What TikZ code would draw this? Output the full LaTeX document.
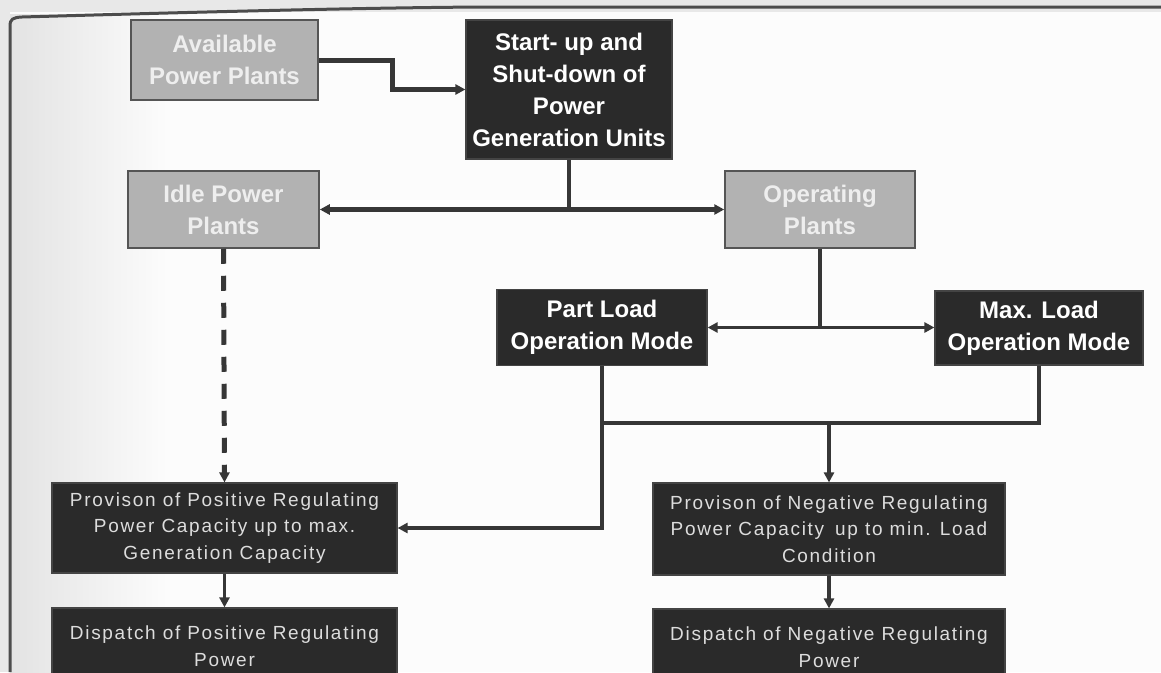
\documentclass[tikz,border=0pt]{standalone}
\usepackage{fontspec}
\setmainfont{Liberation Sans}
\newfontfamily\boxsmall[LetterSpace=9]{Liberation Sans}
\usetikzlibrary{arrows.meta,calc}
\definecolor{darkfill}{HTML}{2A2A2A}
\definecolor{darkedge}{HTML}{444444}
\definecolor{greyfill}{HTML}{B2B2B2}
\definecolor{greyedge}{HTML}{555555}
\definecolor{greytext}{HTML}{EEEEEE}
\definecolor{smalltext}{HTML}{DDDDDD}
\definecolor{linecol}{HTML}{363636}
\definecolor{framecol}{HTML}{4C4C4C}
\begin{document}
\begin{tikzpicture}[x=1pt,y=-1pt,
  bigfont/.style={font=\fontsize{24}{32}\selectfont\bfseries},
  darkbox/.style={rectangle, draw=darkedge, line width=1.2pt, fill=darkfill, text=white, bigfont, align=center, inner sep=0pt},
  greybox/.style={rectangle, draw=greyedge, line width=1.5pt, fill=greyfill, text=greytext, bigfont, align=center, inner sep=0pt},
  smallbox/.style={rectangle, draw=darkedge, line width=1.2pt, fill=darkfill, text=smalltext, font=\boxsmall\fontsize{19}{26.5}\selectfont, align=center, inner sep=0pt},
  conn/.style={draw=linecol, line width=3.5pt},
  tip/.tip={Triangle[length=10pt,width=10pt]}
]
\useasboundingbox (0,0) rectangle (1161,672);
% background
\fill[gray!18] (0,0) rectangle (1161,672);
\fill[white!98!gray] (10,12) rectangle (1161,672);
\shade[left color=gray!22, right color=white!98!gray] (10,14) rectangle (170,672);
% frame
\draw[framecol, line width=3pt] (10,672) -- (10,26) .. controls (10,19) and (13,17.5) .. (22,17) .. controls (200,12) and (350,8) .. (480,7) -- (1161,7);

% nodes
\node[greybox, minimum width=187pt, minimum height=80pt] (avail) at (224.5,60) {Available\\Power Plants};
\node[darkbox, minimum width=206pt, minimum height=139pt] (start) at (569,89.5) {Start- up and\\Shut-down of\\Power\\Generation Units};
\node[greybox, minimum width=191pt, minimum height=77pt] (idle) at (223.5,209.5) {Idle Power\\Plants};
\node[greybox, minimum width=190pt, minimum height=77pt] (oper) at (820,209.5) {Operating\\Plants};
\node[darkbox, minimum width=210pt, minimum height=76pt] (part) at (602,327.5) {Part Load\\Operation Mode};
\node[darkbox, minimum width=208pt, minimum height=74pt] (max) at (1039,328) {Max. Load\\Operation Mode};
\node[smallbox, minimum width=345pt, minimum height=90pt] (provP) at (224.5,528) {Provison of Positive Regulating\\Power Capacity up to max.\\Generation Capacity};
\node[smallbox, minimum width=345pt, minimum height=76pt] (dispP) at (224.5,646) {Dispatch of Positive Regulating\\Power};
\node[smallbox, minimum width=352pt, minimum height=92pt] (provN) at (829,529) {Provison of Negative Regulating\\Power Capacity\hspace{4pt} up to min. Load\\Condition};
\node[smallbox, minimum width=352pt, minimum height=76pt] (dispN) at (829,647) {Dispatch of Negative Regulating\\Power};

% connectors
\coordinate (bend) at (392,58);
\draw[conn, line width=5pt, -tip] (avail.east) -- (avail.east -| bend) |- (start.west);
\draw[conn] (start.south) -- (start.south |- idle.east);
\draw[conn, line width=5pt, tip-tip] (idle.east) -- (oper.west);
\draw[conn] (oper.south) -- (oper.south |- part.east);
\draw[conn, tip-tip] (part.east) -- (part.east -| max.west);
\coordinate (hj) at (602,423);
\draw[conn, -tip] (part.south) |- (provP.east);
\draw[conn] (max.south) |- (hj);
\draw[conn, -tip] (provN.north |- hj) -- (provN.north);
\draw[conn, line width=5pt, dash pattern=on 15pt off 12pt, -tip] (idle.south) -- (provP.north);
\draw[conn, -tip] (provP.south) -- (dispP.north);
\draw[conn, -tip] (provN.south) -- (dispN.north);
\end{tikzpicture}
\end{document}
